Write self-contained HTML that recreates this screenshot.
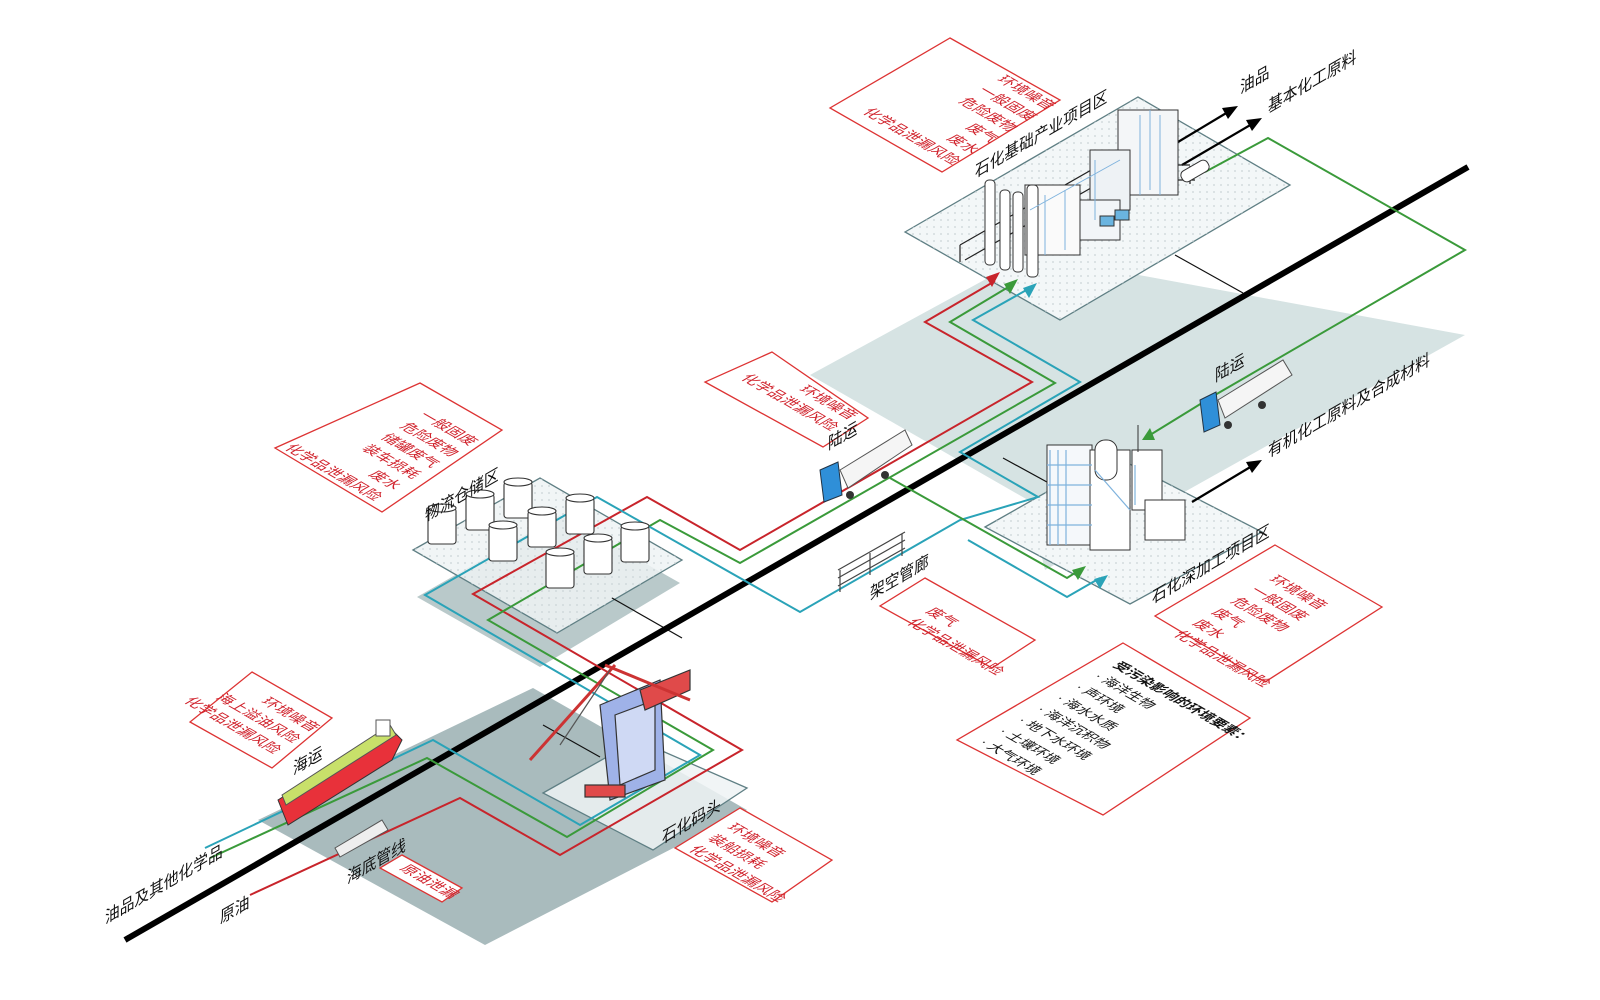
<!DOCTYPE html>
<html><head><meta charset="utf-8"><style>
html,body{margin:0;padding:0;background:#fff;width:1600px;height:1000px;overflow:hidden}
svg{display:block}
text{font-family:"Liberation Sans","Noto Sans CJK SC",sans-serif}
.r{fill:#d0202a;font-size:15px}
.k{fill:#111;font-size:14px}
.l{fill:#111;font-size:17px}
.bx{fill:#fff;stroke:#d33;stroke-width:1.3}
</style></head><body>
<svg width="1600" height="1000" viewBox="0 0 1600 1000" xmlns="http://www.w3.org/2000/svg">
<defs>
<pattern id="dots" width="7" height="7" patternUnits="userSpaceOnUse"><circle cx="3" cy="3" r="0.9" fill="#c9d3d6"/></pattern>
</defs>
<polygon points="810,375 1030,255 1465,335 1045,570 1028,500" fill="#d6e3e3"/>
<polygon points="533,688 747,810 485,945 258,820" fill="#a9bbbd"/>
<polygon points="417,597 560,515 680,583 540,667" fill="#b9c9ca"/>
<polygon points="905,232 1138,97 1290,185 1060,320" fill="#f3f7f8" stroke="#5f7f84" stroke-width="1.3"/>
<polygon points="905,232 1138,97 1290,185 1060,320" fill="url(#dots)"/>
<polygon points="985,527 1112,455 1262,532 1130,604" fill="#f3f7f8" stroke="#5f7f84" stroke-width="1.3"/>
<polygon points="985,527 1112,455 1262,532 1130,604" fill="url(#dots)"/>
<polygon points="413,550 540,478 682,560 557,633" fill="#eef3f4" fill-opacity="0.85" stroke="#5f7f84" stroke-width="1.3"/>
<polygon points="413,550 540,478 682,560 557,633" fill="url(#dots)"/>
<polygon points="543,793 637,740 747,788 653,850" fill="#eef3f4" fill-opacity="0.85" stroke="#5f7f84" stroke-width="1.3"/>
<g stroke="#111" stroke-width="1.2" fill="none">
<line x1="1175" y1="255" x2="1243" y2="293"/>
<line x1="612" y1="598" x2="682" y2="638"/>
<line x1="543" y1="725" x2="600" y2="757"/>
<line x1="1003" y1="458" x2="1067" y2="493"/>
</g>
<line x1="125" y1="940" x2="1468" y2="167" stroke="#000" stroke-width="6"/>
<g fill="none" stroke-width="2">
<polyline stroke="#c8242b" points="250,895 460,798 560,855 742,750 473,594 647,497 740,550 1032,382 925,322 995,281"/>
<polyline stroke="#3a9a3a" points="210,858 427,758 567,837 713,750 488,620 660,520 740,563 1055,383 950,322 1010,286"/>
<polyline stroke="#2aa3b8" points="205,848 433,740 580,825 700,755 425,595 597,497 800,612 960,520 1038,497 960,452 1080,382 973,320 1030,288"/>
<polyline stroke="#2aa3b8" points="968,540 1067,597 1100,578"/>
<polyline stroke="#3a9a3a" points="890,478 1067,578 1078,571"/>
<polyline stroke="#3a9a3a" points="1205,172 1268,138 1465,250 1215,395 1150,435"/>
</g>
<g>
<polygon points="1000,272 986,277 992,287" fill="#c8242b"/>
<polygon points="1018,279 1004,284 1010,294" fill="#3a9a3a"/>
<polygon points="1037,283 1023,288 1029,298" fill="#2aa3b8"/>
<polygon points="1142,440 1150,428 1155,440" fill="#3a9a3a"/>
<polygon points="1086,566 1072,570 1078,580" fill="#3a9a3a"/>
<polygon points="1108,575 1094,579 1100,589" fill="#2aa3b8"/>
</g>
<g stroke="#000" stroke-width="2.2">
<line x1="1168" y1="148" x2="1228" y2="112"/>
<line x1="1182" y1="165" x2="1252" y2="124"/>
<line x1="1192" y1="502" x2="1252" y2="466"/>
</g>
<polygon points="1238,106 1222,108 1228,119" fill="#000"/>
<polygon points="1262,118 1246,120 1252,131" fill="#000"/>
<polygon points="1262,460 1246,462 1252,473" fill="#000"/>
<g stroke="#333" stroke-width="1" fill="#fff">
<g stroke="#222" fill="none" stroke-width="1.2">
<path d="M960,245 L1100,165 L1190,165 M965,260 L1105,180 L1195,180 M960,245 V262 M985,232 V250 M1010,218 V238 M1040,202 V222 M1070,186 V206 M1100,168 V188 M1130,170 V190 M1160,170 V190 M1190,166 V184"/>
</g>
<rect x="1118" y="110" width="60" height="85" fill="#f4f6f8"/>
<rect x="1090" y="150" width="40" height="60" fill="#eef2f5"/>
<rect x="1025" y="185" width="55" height="70" fill="#fafafa"/>
<rect x="1080" y="200" width="40" height="40" fill="#f2f5f8"/>
<rect x="985" y="180" width="10" height="85" rx="4"/>
<rect x="1000" y="190" width="10" height="80" rx="4"/>
<rect x="1013" y="192" width="10" height="80" rx="4"/>
<rect x="1027" y="185" width="11" height="92" rx="4"/>
<rect x="1100" y="216" width="14" height="10" fill="#6ab4e0"/>
<rect x="1115" y="210" width="14" height="10" fill="#6ab4e0"/>
<rect x="1180" y="165" width="30" height="12" rx="5" transform="rotate(-30 1195 171)"/>
</g>
<g stroke="#7fb3dd" stroke-width="1" fill="none">
<path d="M1140,115 V195 M1150,110 V190 M1160,115 V195 M1045,195 V255 M1065,190 V250 M1095,160 V220 M1030,210 L1120,160"/>
</g>
<g stroke="#333" stroke-width="1" fill="#fff">
<rect x="1047" y="445" width="45" height="100" fill="#f5f8fb"/>
<rect x="1090" y="450" width="40" height="100"/>
<rect x="1095" y="440" width="22" height="40" rx="10"/>
<rect x="1132" y="450" width="30" height="60"/>
<rect x="1145" y="500" width="40" height="40"/>
<line x1="1138" y1="425" x2="1138" y2="452"/>
</g>
<g stroke="#7fb3dd" stroke-width="1.2" fill="none">
<path d="M1050,450 V545 M1058,450 V545 M1066,450 V545 M1047,465 H1092 M1047,485 H1092 M1047,505 H1092 M1047,525 H1092 M1095,470 L1130,510 M1135,465 V505"/>
</g>
<g stroke="#333" stroke-width="1.1" fill="#fff">
<g><rect x="428" y="508" width="28" height="36" rx="3"/><ellipse cx="442" cy="508" rx="14" ry="4"/></g>
<g><rect x="466" y="494" width="28" height="36" rx="3"/><ellipse cx="480" cy="494" rx="14" ry="4"/></g>
<g><rect x="504" y="482" width="28" height="36" rx="3"/><ellipse cx="518" cy="482" rx="14" ry="4"/></g>
<g><rect x="489" y="525" width="28" height="36" rx="3"/><ellipse cx="503" cy="525" rx="14" ry="4"/></g>
<g><rect x="528" y="511" width="28" height="36" rx="3"/><ellipse cx="542" cy="511" rx="14" ry="4"/></g>
<g><rect x="566" y="498" width="28" height="36" rx="3"/><ellipse cx="580" cy="498" rx="14" ry="4"/></g>
<g><rect x="546" y="552" width="28" height="36" rx="3"/><ellipse cx="560" cy="552" rx="14" ry="4"/></g>
<g><rect x="584" y="538" width="28" height="36" rx="3"/><ellipse cx="598" cy="538" rx="14" ry="4"/></g>
<g><rect x="621" y="526" width="28" height="36" rx="3"/><ellipse cx="635" cy="526" rx="14" ry="4"/></g>
</g>
<g>
<polygon points="840,470 905,430 912,445 848,488" fill="#f5f5f5" stroke="#555"/>
<polygon points="820,470 838,462 842,495 824,502" fill="#2f8fd8" stroke="#234"/>
<circle cx="850" cy="495" r="4" fill="#333"/><circle cx="885" cy="475" r="4" fill="#333"/>
<polygon points="1218,400 1283,360 1292,375 1225,418" fill="#f5f5f5" stroke="#555"/>
<polygon points="1200,400 1216,392 1220,425 1204,432" fill="#2f8fd8" stroke="#234"/>
<circle cx="1228" cy="425" r="4" fill="#333"/><circle cx="1262" cy="405" r="4" fill="#333"/>
</g>
<g stroke="#444" stroke-width="1.2" fill="none">
<path d="M838,570 L905,532 M838,578 L905,540 M838,586 L905,548 M840,570 V592 M870,553 V575 M902,534 V556"/>
</g>
<polygon points="335,848 382,820 388,830 340,857" fill="#eee" stroke="#555"/>
<polygon points="278,800 390,728 402,740 392,760 288,825" fill="#e8313a" stroke="#333"/>
<polygon points="282,795 390,725 396,735 286,805" fill="#c8e06a" stroke="#555"/>
<rect x="376" y="720" width="14" height="16" fill="#fff" stroke="#555"/>
<g stroke="#333" stroke-width="1.2">
<line x1="530" y1="760" x2="615" y2="665" stroke="#c33" stroke-width="3"/>
<line x1="560" y1="745" x2="610" y2="670" stroke="#555"/>
<polygon points="600,705 660,680 665,780 610,800" fill="#9fb2e8"/>
<polygon points="615,715 655,700 655,770 620,785" fill="#fff" fill-opacity="0.5"/>
<polygon points="640,690 690,670 690,690 645,710" fill="#e04a4a"/>
<line x1="605" y1="665" x2="690" y2="700" stroke="#c33" stroke-width="3"/>
<rect x="585" y="785" width="40" height="12" fill="#e04a4a"/>
</g>
<polygon class="bx" points="950,38 1060,100 942,172 830,108"/>
<polygon class="bx" points="772,352 868,418 823,447 705,382"/>
<polygon class="bx" points="420,383 502,430 382,512 275,448"/>
<polygon class="bx" points="252,672 332,718 272,768 190,722"/>
<polygon class="bx" points="740,808 832,860 772,902 675,848"/>
<polygon class="bx" points="925,578 1035,640 992,668 880,606"/>
<polygon class="bx" points="1275,545 1382,607 1265,682 1155,616"/>
<polygon class="bx" points="1123,643 1250,718 1103,815 957,740"/>
<polygon class="bx" points="402,855 462,888 442,902 380,868"/>
<g transform="matrix(.866,.5,-.866,.5,1048,110)" class="r" text-anchor="end">
<text y="0">环境噪音</text><text y="22">一般固废</text><text y="44">危险废物</text><text y="66">废气</text><text y="88">废水</text><text y="110">化学品泄漏风险</text></g>
<g transform="matrix(.866,.5,-.866,.5,850,420)" class="r" text-anchor="end">
<text y="0">环境噪音</text><text y="22">化学品泄漏风险</text></g>
<g transform="matrix(.866,.5,-.866,.5,470,446)" class="r" text-anchor="end">
<text y="0">一般固废</text><text y="22">危险废物</text><text y="44">储罐废气</text><text y="66">装车损耗</text><text y="88">废水</text><text y="110">化学品泄漏风险</text></g>
<g transform="matrix(.866,.5,-.866,.5,312,732)" class="r" text-anchor="end">
<text y="0">环境噪音</text><text y="22">海上溢油风险</text><text y="44">化学品泄漏风险</text></g>
<g transform="matrix(.866,.5,-.866,.5,726,828)" class="r">
<text y="0">环境噪音</text><text y="22">装船损耗</text><text y="44">化学品泄漏风险</text></g>
<g transform="matrix(.866,.5,-.866,.5,925,612)" class="r">
<text y="0">废气</text><text y="22">化学品泄漏风险</text></g>
<g transform="matrix(.866,.5,-.866,.5,1268,580)" class="r">
<text y="0">环境噪音</text><text y="22">一般固废</text><text y="44">危险废物</text><text y="66">废气</text><text y="88">废水</text><text y="110">化学品泄漏风险</text></g>
<g transform="matrix(.866,.5,-.866,.5,1112,666)" class="k">
<text y="0" font-weight="bold">受污染影响的环境要素：</text><text y="22">· 海洋生物</text><text y="44">· 声环境</text><text y="66">· 海水水质</text><text y="88">· 海洋沉积物</text><text y="110">· 地下水环境</text><text y="132">· 土壤环境</text><text y="154">· 大气环境</text></g>
<g transform="matrix(.866,.5,-.866,.5,425,884)" class="r" text-anchor="middle"><text>原油泄漏</text></g>
<g class="l">
<text transform="matrix(.866,-.5,0,1,975,178)">石化基础产业项目区</text>
<text transform="matrix(.866,-.5,0,1,1240,94)">油品</text>
<text transform="matrix(.866,-.5,0,1,1268,113)">基本化工原料</text>
<text transform="matrix(.866,-.5,0,1,425,522)">物流仓储区</text>
<text transform="matrix(.866,-.5,0,1,828,450)">陆运</text>
<text transform="matrix(.866,-.5,0,1,1215,382)">陆运</text>
<text transform="matrix(.866,-.5,0,1,1268,458)">有机化工原料及合成材料</text>
<text transform="matrix(.866,-.5,0,1,870,600)">架空管廊</text>
<text transform="matrix(.866,-.5,0,1,1152,604)">石化深加工项目区</text>
<text transform="matrix(.866,-.5,0,1,293,775)">海运</text>
<text transform="matrix(.866,-.5,0,1,662,844)">石化码头</text>
<text transform="matrix(.866,-.5,0,1,347,884)">海底管线</text>
<text transform="matrix(.866,-.5,0,1,105,924)">油品及其他化学品</text>
<text transform="matrix(.866,-.5,0,1,220,924)">原油</text>
</g>
</svg>
</body></html>
